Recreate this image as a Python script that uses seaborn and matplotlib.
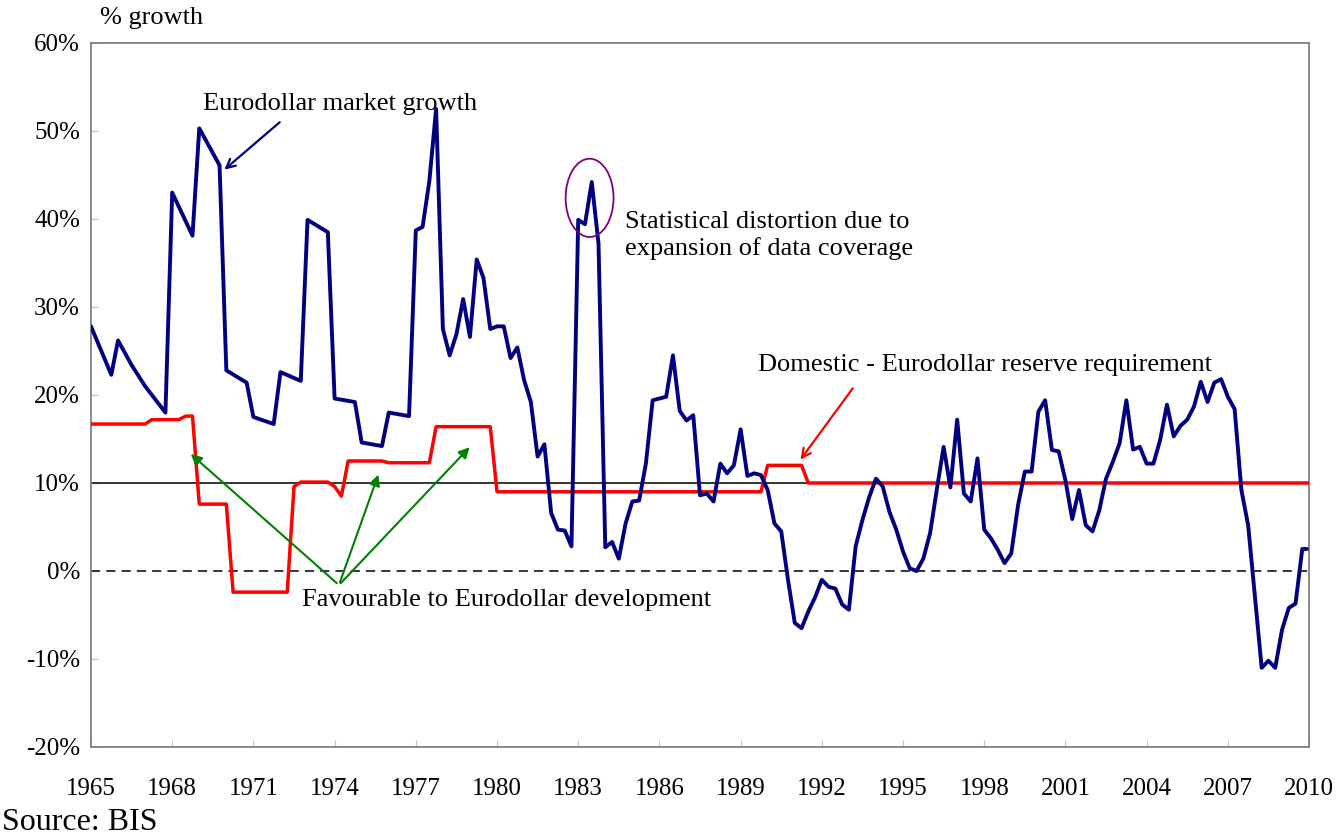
import matplotlib
matplotlib.use("Agg")
import matplotlib.pyplot as plt
import seaborn as sns
import pandas as pd
from matplotlib.patches import Ellipse
from matplotlib.ticker import FuncFormatter


# Eurodollar market growth, quarterly (% growth)
growthYear = [
    1965.0, 1965.75, 1966.0, 1966.5, 1967.0, 1967.75, 1968.0, 1968.75, 1969.0, 1969.75,
    1970.0, 1970.75, 1971.0, 1971.75, 1972.0, 1972.75, 1973.0, 1973.75, 1974.0, 1974.75,
    1975.0, 1975.75, 1976.0, 1976.75, 1977.0, 1977.25, 1977.5, 1977.75, 1978.0, 1978.25,
    1978.5, 1978.75, 1979.0, 1979.25, 1979.5, 1979.75, 1980.0, 1980.25, 1980.5, 1980.75,
    1981.0, 1981.25, 1981.5, 1981.75, 1982.0, 1982.25, 1982.5, 1982.75, 1983.0, 1983.25,
    1983.5, 1983.75, 1984.0, 1984.25, 1984.5, 1984.75, 1985.0, 1985.25, 1985.5, 1985.75,
    1986.0, 1986.25, 1986.5, 1986.75, 1987.0, 1987.25, 1987.5, 1987.75, 1988.0, 1988.25,
    1988.5, 1988.75, 1989.0, 1989.25, 1989.5, 1989.75, 1990.0, 1990.25, 1990.5, 1990.75,
    1991.0, 1991.25, 1991.5, 1991.75, 1992.0, 1992.25, 1992.5, 1992.75, 1993.0, 1993.25,
    1993.5, 1993.75, 1994.0, 1994.25, 1994.5, 1994.75, 1995.0, 1995.25, 1995.5, 1995.75,
    1996.0, 1996.25, 1996.5, 1996.75, 1997.0, 1997.25, 1997.5, 1997.75, 1998.0, 1998.25,
    1998.5, 1998.75, 1999.0, 1999.25, 1999.5, 1999.75, 2000.0, 2000.25, 2000.5, 2000.75,
    2001.0, 2001.25, 2001.5, 2001.75, 2002.0, 2002.25, 2002.5, 2002.75, 2003.0, 2003.25,
    2003.5, 2003.75, 2004.0, 2004.25, 2004.5, 2004.75, 2005.0, 2005.25, 2005.5, 2005.75,
    2006.0, 2006.25, 2006.5, 2006.75, 2007.0, 2007.25, 2007.5, 2007.75, 2008.0, 2008.25,
    2008.5, 2008.75, 2009.0, 2009.25, 2009.5, 2009.75, 2009.92,
]
growthValue = [
    27.8, 22.3, 26.2, 23.4, 21.0, 18.0, 43.0, 38.1, 50.3, 46.1,
    22.8, 21.4, 17.5, 16.7, 22.6, 21.6, 39.9, 38.5, 19.6, 19.2,
    14.6, 14.2, 18.0, 17.6, 38.7, 39.1, 44.3, 52.5, 27.5, 24.5,
    26.9, 30.9, 26.6, 35.4, 33.3, 27.5, 27.8, 27.8, 24.2, 25.4,
    21.7, 19.2, 13.0, 14.4, 6.6, 4.7, 4.6, 2.8, 39.9, 39.4,
    44.2, 37.2, 2.7, 3.3, 1.4, 5.4, 7.9, 8.0, 12.2, 19.4,
    19.6, 19.8, 24.5, 18.2, 17.1, 17.7, 8.6, 8.8, 7.9, 12.2,
    11.1, 12.0, 16.1, 10.8, 11.1, 10.9, 9.2, 5.4, 4.5, -1.0,
    -5.9, -6.5, -4.6, -3.0, -1.0, -1.8, -2.0, -3.8, -4.4, 2.8,
    5.8, 8.4, 10.5, 9.6, 6.7, 4.7, 2.2, 0.3, 0.0, 1.4,
    4.3, 9.3, 14.1, 9.5, 17.2, 8.8, 7.9, 12.8, 4.7, 3.7,
    2.4, 0.9, 2.0, 7.5, 11.3, 11.3, 18.1, 19.4, 13.75, 13.6,
    10.3, 5.9, 9.2, 5.2, 4.5, 6.9, 10.5, 12.4, 14.5, 19.4,
    13.8, 14.1, 12.2, 12.2, 14.9, 18.9, 15.3, 16.5, 17.2, 18.7,
    21.5, 19.2, 21.4, 21.8, 19.8, 18.4, 9.2, 5.2, -2.9, -11.0,
    -10.2, -11.0, -6.7, -4.2, -3.7, 2.5, 2.5,
]

# Domestic - Eurodollar reserve requirement (%)
reserveYear = [
    1965.0, 1967.0, 1967.25, 1968.25, 1968.5, 1968.75, 1969.0, 1970.0, 1970.25, 1972.25,
    1972.5, 1972.75, 1973.75, 1974.0, 1974.25, 1974.5, 1975.75, 1976.0, 1977.5, 1977.75,
    1979.75, 1980.0, 1989.75, 1990.0, 1991.25, 1991.5, 2010.0,
]
reserveValue = [
    16.7, 16.7, 17.2, 17.2, 17.6, 17.6, 7.6, 7.6, -2.4, -2.4,
    9.6, 10.1, 10.1, 9.6, 8.5, 12.5, 12.5, 12.3, 12.3, 16.4,
    16.4, 9.0, 9.0, 12.0, 12.0, 10.0, 10.0,
]

yearTicks = list(range(1965, 2011, 3))
pctTicks = list(range(-20, 61, 10))

growthDf = pd.DataFrame({"year": growthYear, "growth": growthValue})
reserveDf = pd.DataFrame({"year": reserveYear, "reserve": reserveValue})

sns.set_style("white")
plt.rcParams['font.family'] = ['Liberation Serif', 'DejaVu Serif']
plt.rcParams['text.color'] = 'black'
plt.rcParams['xtick.labelcolor'] = 'black'
plt.rcParams['ytick.labelcolor'] = 'black'

fig = plt.figure(figsize=(13.44, 8.38), dpi=100)
ax = fig.add_axes([0.0677, 0.1086, 0.9063, 0.8401])

# Reference lines
ax.axhline(10, color="black", linewidth=1.1, zorder=1)
ax.axhline(0, color="black", linewidth=1.1, linestyle=(0, (6, 4)), zorder=1)

sns.lineplot(data=reserveDf, x="year", y="reserve", color="#FF0000", linewidth=2.5,
             estimator=None, sort=False, ax=ax, zorder=3)
sns.lineplot(data=growthDf, x="year", y="growth", color="#000080", linewidth=2.8,
             estimator=None, sort=False, ax=ax, zorder=4)

ax.set_xlim(1965, 2010)
ax.set_ylim(-20, 60)
ax.set_xticks(yearTicks)
ax.set_yticks(pctTicks)
ax.yaxis.set_major_formatter(FuncFormatter(lambda v, p: f"{v:.0f}%"))
ax.set_xlabel("")
ax.set_ylabel("")

for spine in ax.spines.values():
    spine.set_color("#808080")
    spine.set_linewidth(1.3)

ax.tick_params(axis="x", direction="in", length=5, color="#c0c0c0", pad=22, labelsize=18, bottom=True)
ax.tick_params(axis="y", direction="in", length=5, color="#c0c0c0", pad=8, labelsize=18, left=True)

# Annotations
ax.text(1969.15, 53.1, "Eurodollar market growth", fontsize=19, va="center", ha="left")
ax.annotate("", xy=(1969.85, 45.4), xytext=(1972.05, 51.2),
            arrowprops=dict(arrowstyle="->", color="#000080", lw=1.6, mutation_scale=16))

ax.add_patch(Ellipse((1983.42, 42.4), 1.77, 8.9, fill=False, edgecolor="#800080", lw=1.3, zorder=5))
ax.text(1984.73, 38.1, "Statistical distortion due to\nexpansion of data coverage",
        fontsize=19, va="center", ha="left", linespacing=1.2)

ax.text(1989.65, 23.4, "Domestic - Eurodollar reserve requirement", fontsize=19, va="center", ha="left")
ax.annotate("", xy=(1991.15, 12.4), xytext=(1993.2, 21.0),
            arrowprops=dict(arrowstyle="->", color="#FF0000", lw=1.6, mutation_scale=16))

ax.text(1972.8, -3.3, "Favourable to Eurodollar development", fontsize=19, va="center", ha="left")
greenTail = (1974.16, -1.6)
for head in [(1968.61, 13.5), (1975.65, 11.25), (1979.06, 14.3)]:
    ax.annotate("", xy=head, xytext=greenTail,
                arrowprops=dict(arrowstyle="-|>", color="#008000", lw=1.5, mutation_scale=16))

fig.text(100 / 1344, 1 - 18 / 838, "% growth", fontsize=19, va="center", ha="left")
fig.text(2 / 1344, 1 - 822 / 838, "Source: BIS", fontsize=23, va="center", ha="left")

fig.savefig("out.png", dpi=100)
